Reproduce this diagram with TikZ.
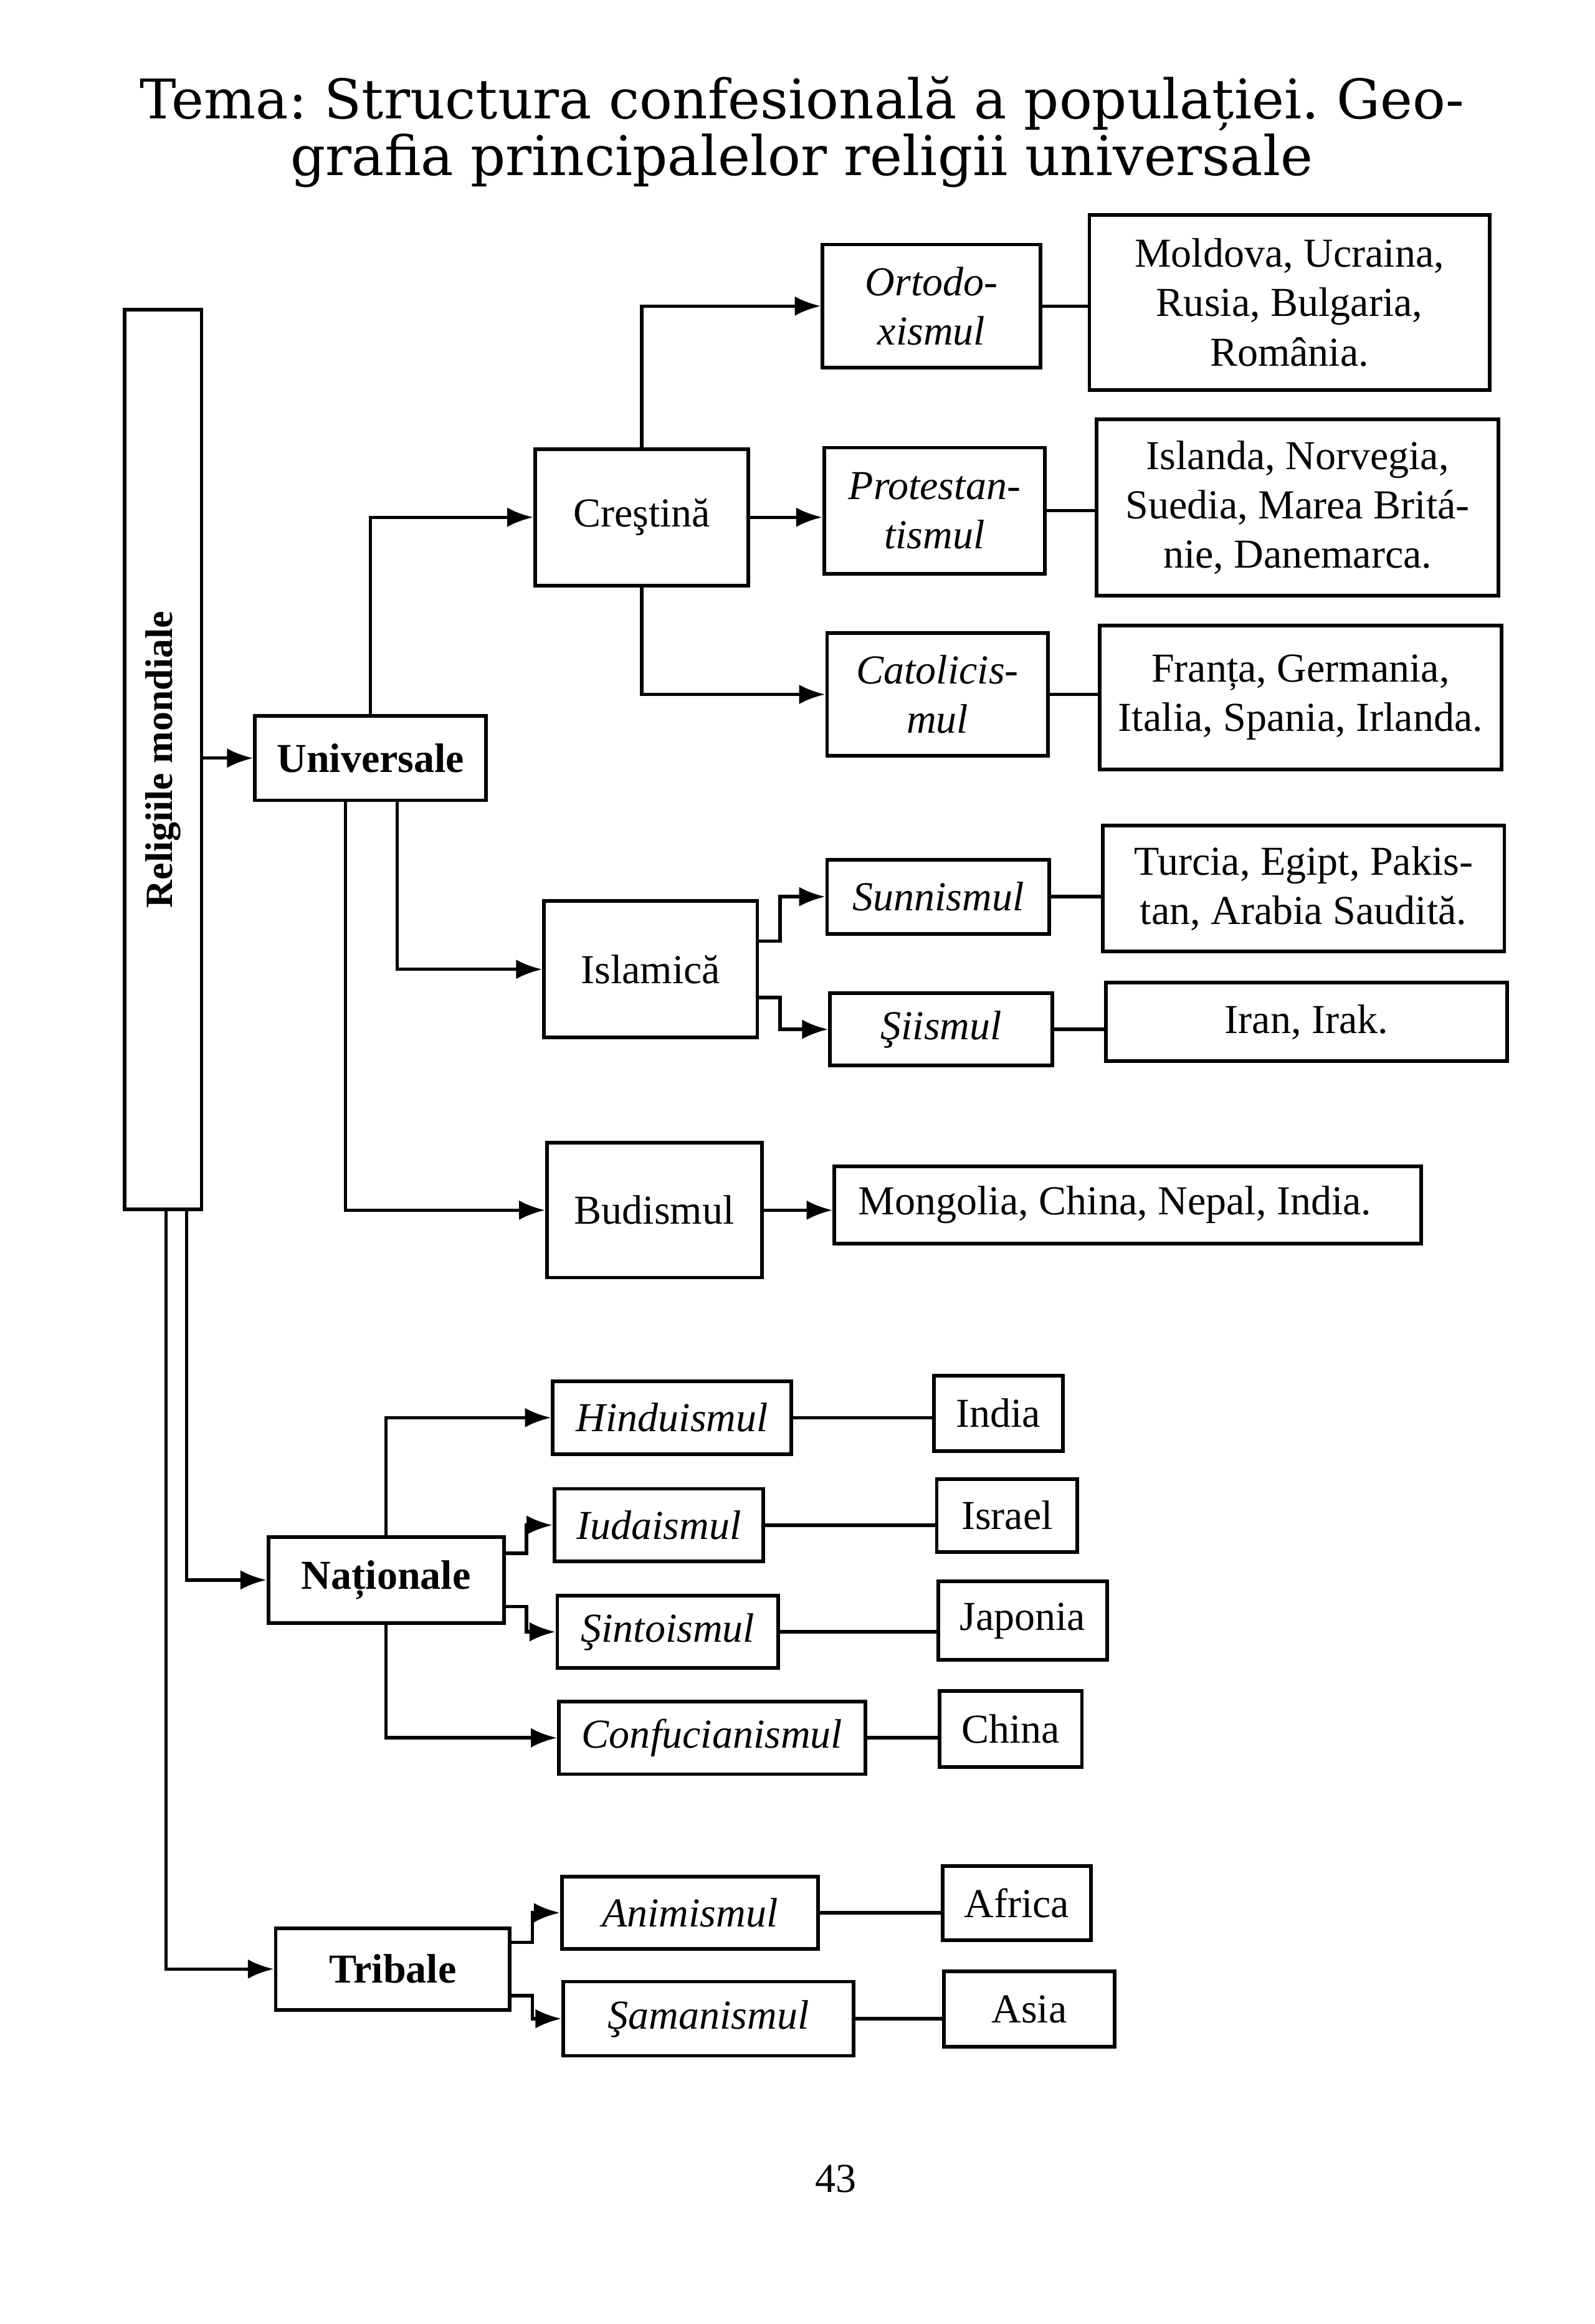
\documentclass[tikz,border=0pt]{standalone}
\usepackage{fontspec}
\setmainfont{Liberation Serif}
\newfontfamily\titlufont{DejaVu Serif}
\usetikzlibrary{arrows.meta}
\frenchspacing

\begin{document}
\begin{tikzpicture}[x=0.02cm, y=-0.02cm,
    marime/.style 2 args={minimum width=#1cm, minimum height=#2cm},
    cutie/.style={draw, line width=1.4pt, inner sep=0pt, align=center, font=\fontsize{15.8pt}{19pt}\selectfont},
    grup/.style={cutie, font=\fontsize{15.8pt}{19pt}\selectfont\bfseries},
    rel/.style={cutie, font=\fontsize{15.8pt}{19pt}\selectfont\itshape},
    sag/.style={line width=1.3pt, -{Latex[length=10pt, width=7.5pt]}},
    lin/.style={line width=1.3pt}]
    \useasboundingbox (0,0) rectangle (1076,1568);

    % Titlul paginii
    \node[align=center, inner sep=0pt, font=\titlufont\fontsize{21pt}{17.5pt}\selectfont] (titlu) at (541,89)
        {Tema: Structura confesională a populației. Geo-\\grafia principalelor religii universale};

    % Coloana din stanga
    \node[grup, marime={1.04}{12.14}, font=\fontsize{14.8pt}{18pt}\selectfont\bfseries] (mond) at (110,512.5) {\rotatebox{90}{Religiile mondiale}};

    % RELIGII UNIVERSALE
    \node[grup, marime={3.12}{1.14}] (univ) at (250,511.5) {Universale};
    \draw[sag] (mond.east |- univ.west) -- (univ.west);

    % 1. Crestina si ramurile ei
    \node[cutie, marime={2.88}{1.84}] (crest) at (433,349) {Creştină};
    \draw[sag] (univ.north) |- (crest.west);

    \node[rel, marime={2.94}{1.66}] (ort) at (628.5,206.5) {Ortodo-\\xismul};
    \node[cutie, marime={5.40}{2.36}] (ortT) at (870,204) {Moldova, Ucraina,\\Rusia, Bulgaria,\\România.};
    \draw[sag] (crest.north) |- (ort.west);
    \draw[lin] (ort.east) -- (ort.east -| ortT.west);

    \node[rel, marime={2.98}{1.70}] (prot) at (630.5,344.5) {Protestan-\\tismul};
    \node[cutie, marime={5.42}{2.38}] (protT) at (875.5,342.5) {Islanda, Norvegia,\\Suedia, Marea Britá-\\nie, Danemarca.};
    \draw[sag] (crest.east) -- (crest.east -| prot.west);
    \draw[lin] (prot.east) -- (prot.east -| protT.west);

    \node[rel, marime={2.98}{1.66}] (cat) at (632.5,468.5) {Catolicis-\\mul};
    \node[cutie, marime={5.42}{1.94}] (catT) at (877.5,470.5) {Franța, Germania,\\Italia, Spania, Irlanda.};
    \draw[sag] (crest.south) |- (cat.west);
    \draw[lin] (cat.east) -- (cat.east -| catT.west);

    % 2. Islamica
    \node[cutie, marime={2.88}{1.84}] (isl) at (439,654) {Islamică};
    \draw[sag] ([xshift=0.36cm]univ.south) |- (isl.west);

    \node[rel, marime={3.00}{1.00}] (sun) at (633,605) {Sunnismul};
    \node[cutie, marime={5.42}{1.70}] (sunT) at (879.5,599.5) {Turcia, Egipt, Pakis-\\tan, Arabia Saudită.};
    \draw[sag] ([yshift=0.38cm]isl.east) -- ++(14,0) |- (sun.west);
    \draw[lin] (sun.east) -- (sun.east -| sunT.west);

    \node[rel, marime={3.00}{0.98}] (sii) at (635,694.5) {Şiismul};
    \node[cutie, marime={5.42}{1.06}] (siiT) at (881.5,689.5) {Iran, Irak.};
    \draw[sag] ([yshift=-0.38cm]isl.east) -- ++(14,0) |- (sii.west);
    \draw[lin] (sii.east) -- (sii.east -| siiT.west);

    % 3. Budismul
    \node[cutie, marime={2.90}{1.82}] (bud) at (441.5,816.5) {Budismul};
    \node[cutie, marime={7.92}{1.04}] (budT) at (761,813) {Mongolia, China, Nepal, India.\hspace*{0.35cm}};
    \draw[sag] ([xshift=-0.34cm]univ.south) |- (bud.west);
    \draw[sag] (bud.east) -- (bud.east -| budT.west);

    % RELIGII NATIONALE
    \node[grup, marime={3.18}{1.16}] (nat) at (260.5,1066) {Naționale};
    \draw[sag] ([xshift=0.32cm]mond.south) |- (nat.west);

    \node[rel, marime={3.22}{0.98}] (hin) at (453.5,956.5) {Hinduismul};
    \node[cutie, marime={1.74}{1.02}] (hinT) at (673.5,953.5) {India};
    \draw[sag] (nat.north) |- (hin.west);
    \draw[lin] (hin.east) -- (hin.east -| hinT.west);

    \node[rel, marime={2.82}{0.98}] (iud) at (444.5,1029) {Iudaismul};
    \node[cutie, marime={1.90}{0.98}] (iudT) at (679.5,1022.5) {Israel};
    \draw[sag] ([yshift=0.36cm]nat.east) -- ++(14,0) |- (iud.west);
    \draw[lin] (iud.east) -- (iud.east -| iudT.west);

    \node[rel, marime={2.98}{0.98}] (sin) at (450.5,1101) {Şintoismul};
    \node[cutie, marime={2.28}{1.06}] (sinT) at (690,1093.5) {Japonia};
    \draw[sag] ([yshift=-0.36cm]nat.east) -- ++(14,0) |- (sin.west);
    \draw[lin] (sin.east) -- (sin.east -| sinT.west);

    \node[rel, marime={4.14}{0.98}] (con) at (480.5,1172.5) {Confucianismul};
    \node[cutie, marime={1.92}{1.02}] (conT) at (682,1166.5) {China};
    \draw[sag] (nat.south) |- (con.west);
    \draw[lin] (con.east) -- (con.east -| conT.west);

    % RELIGII TRIBALE
    \node[grup, marime={3.16}{1.10}] (trib) at (265,1328.5) {Tribale};
    \draw[sag] ([xshift=0.04cm]mond.south) |- (trib.west);

    \node[rel, marime={3.46}{0.98}] (ani) at (465.5,1290.5) {Animismul};
    \node[cutie, marime={2.00}{1.00}] (aniT) at (686,1284) {Africa};
    \draw[sag] ([yshift=0.36cm]trib.east) -- ++(14,0) |- (ani.west);
    \draw[lin] (ani.east) -- (ani.east -| aniT.west);

    \node[rel, marime={3.92}{1.00}] (sam) at (478,1362) {Şamanismul};
    \node[cutie, marime={2.30}{1.02}] (samT) at (694.5,1355.5) {Asia};
    \draw[sag] ([yshift=-0.36cm]trib.east) -- ++(14,0) |- (sam.west);
    \draw[lin] (sam.east) -- (sam.east -| samT.west);

    % Numarul paginii
    \node[font=\fontsize{15.8pt}{19pt}\selectfont] (pag) at (564,1470) {43};
\end{tikzpicture}
\end{document}
